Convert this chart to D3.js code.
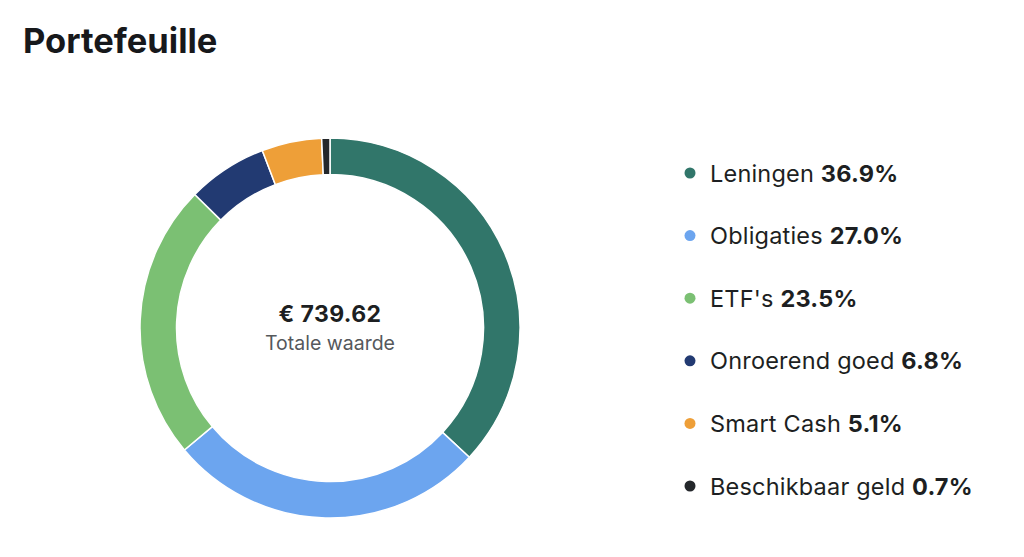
<!DOCTYPE html>
<html><head><meta charset="utf-8">
<script src="https://cdn.jsdelivr.net/npm/d3@7"></script>
<style>
html,body{margin:0;padding:0;background:#fff;}
svg{display:block;font-family:Inter,"Noto Sans",sans-serif;}
</style></head>
<body>
<svg id="c" width="1024" height="557"></svg>
<script>
const categories = ["Leningen","Obligaties","ETF's","Onroerend goed","Smart Cash","Beschikbaar geld"];
const values = [36.9, 27.0, 23.5, 6.8, 5.1, 0.7];
const colors = ["#31766a","#6ca5ef","#7bc073","#223a72","#ee9f38","#24272b"];
const totalLabel = "€ 739.62";
const subLabel = "Totale waarde";
const title = "Portefeuille";

const svg = d3.select("#c");
svg.append("text").attr("x",23).attr("y",53)
  .attr("font-size",34.5).attr("font-weight",700).attr("fill","#17181b").text(title);

const cx = 330, cy = 328, R = 190, r = 153.5;
const data = categories.map((c,i)=>({name:c,value:values[i],color:colors[i]}));
const pie = d3.pie().value(d=>d.value).sort(null);
const arc = d3.arc().innerRadius(r).outerRadius(R);
const g = svg.append("g").attr("transform",`translate(${cx},${cy})`);
g.selectAll("path").data(pie(data)).join("path")
  .attr("d",arc).attr("fill",d=>d.data.color)
  .attr("stroke","#fff").attr("stroke-width",1.5);

g.append("text").attr("text-anchor","middle").attr("y",-6)
  .attr("font-size",23).attr("font-weight",700).attr("letter-spacing",0.4).attr("fill","#1d1f22").text(totalLabel);
g.append("text").attr("text-anchor","middle").attr("y",22)
  .attr("font-size",19.5).attr("fill","#55585c").text(subLabel);

const ly = d3.scalePoint().domain(categories).range([173,486]);
const lg = svg.append("g");
const rows = lg.selectAll("g").data(data).join("g")
  .attr("transform",d=>`translate(690,${ly(d.name)})`);
rows.append("circle").attr("r",5.5).attr("cx",0).attr("cy",0).attr("fill",d=>d.color);
const t = rows.append("text").attr("x",20).attr("y",8.5).attr("font-size",23.5)
  .attr("letter-spacing",0.2).attr("fill","#1d1f22");
t.append("tspan").text(d=>d.name+" ");
t.append("tspan").attr("font-weight",700).text(d=>d.value.toFixed(1)+"%");
</script>
</body></html>
